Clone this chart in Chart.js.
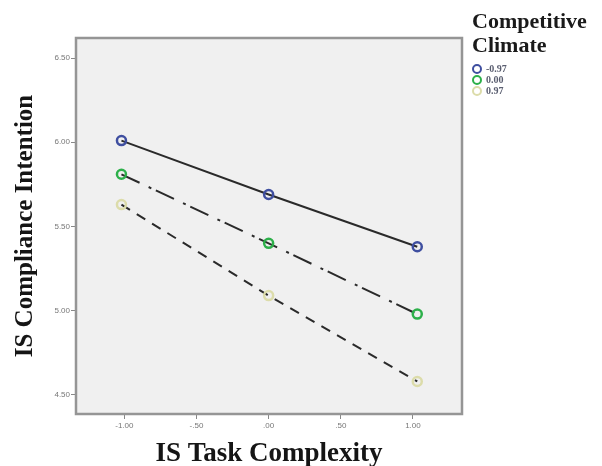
<!DOCTYPE html>
<html>
<head>
<meta charset="utf-8">
<script src="https://cdn.jsdelivr.net/npm/chart.js@4.4.1/dist/chart.umd.min.js"></script>
<style>
  body { margin: 0; background: #fff; }
  #wrap { position: relative; width: 602px; height: 466px; }
  #legend { position: absolute; left: 472px; top: 9px; font-family: "Liberation Serif", "Times New Roman", serif; }
  #legend .title { font-size: 22px; font-weight: bold; line-height: 24px; color: #1a1a1a; }
  #legend ul { list-style: none; margin: 6px 0 0 0; padding: 0; }
  #legend li { height: 11px; line-height: 11px; font-size: 10px; font-weight: bold; color: #5a5e70; display: flex; align-items: center; }
  #legend .ring { width: 6px; height: 6px; border-radius: 50%; border: 2px solid; margin-right: 4px; }
</style>
</head>
<body>
<div id="wrap">
  <canvas id="chart" width="602" height="466"></canvas>
  <div id="legend">
    <div class="title">Competitive<br>Climate</div>
    <ul id="legendItems"></ul>
  </div>
</div>
<script>
// Nilai sumbu X (IS Task Complexity, -1 SD, mean, +1 SD)
const taskComplexity = [-1.02, 0, 1.03];

// Kelompok moderator (Competitive Climate)
const climateLabels = ["-0.97", "0.00", "0.97"];

// Nilai prediksi IS Compliance Intention per kelompok
const lowClimate = [6.01, 5.69, 5.38];
const midClimate = [5.81, 5.40, 4.98];
const highClimate = [5.63, 5.09, 4.58];

// Label tick
const xTicks = [-1, -0.5, 0, 0.5, 1];
const xTickLabels = ["-1.00", "-.50", ".00", ".50", "1.00"];
const yTicks = [4.5, 5, 5.5, 6, 6.5];
const yTickLabels = ["4.50", "5.00", "5.50", "6.00", "6.50"];

const ringColors = ["#3f4fa0", "#2db04a", "#dcdcaa"];
const dashes = [[], [20, 10, 3, 5], [10, 8]];
const seriesValues = [lowClimate, midClimate, highClimate];

const toPoints = (vals) => vals.map((v, i) => ({ x: taskComplexity[i], y: v }));

// Plugin latar abu-abu + bingkai area plot
const plotBox = {
  id: "plotBox",
  beforeDraw(chart) {
    const { ctx, chartArea: a } = chart;
    ctx.save();
    ctx.fillStyle = "#f0f0f0";
    ctx.fillRect(a.left, a.top, a.right - a.left, a.bottom - a.top);
    ctx.restore();
  },
  beforeDatasetsDraw(chart) {
    const { ctx, chartArea: a } = chart;
    ctx.save();
    ctx.strokeStyle = "#959595";
    ctx.lineWidth = 2.5;
    ctx.strokeRect(a.left, a.top, a.right - a.left, a.bottom - a.top);
    ctx.restore();
  },
};

const ctx = document.getElementById("chart").getContext("2d");

new Chart(ctx, {
  type: "scatter",
  data: {
    datasets: climateLabels.map((lbl, i) => ({
      label: lbl,
      data: toPoints(seriesValues[i]),
      showLine: true,
      borderColor: "#2a2a2a",
      borderWidth: 2,
      borderDash: dashes[i],
      pointRadius: 4.5,
      pointBorderWidth: 2.5,
      pointBorderColor: ringColors[i],
      pointBackgroundColor: "rgba(0,0,0,0)",
    })),
  },
  options: {
    responsive: false,
    animation: false,
    layout: { padding: { top: 38, right: 140, left: 0, bottom: 0 } },
    plugins: {
      legend: { display: false },
      tooltip: { enabled: false },
    },
    scales: {
      x: {
        type: "linear",
        min: -1.335,
        max: 1.34,
        afterFit: (scale) => { scale.height = 52; },
        afterBuildTicks: (scale) => { scale.ticks = xTicks.map((v) => ({ value: v })); },
        border: { display: false },
        grid: { drawOnChartArea: false, tickLength: 5, color: "#888" },
        ticks: {
          color: "#777",
          padding: 2,
          font: { family: "Liberation Sans", size: 8 },
          callback: (v) => xTickLabels[xTicks.indexOf(v)],
        },
        title: {
          display: true,
          text: "IS Task Complexity",
          color: "#151515",
          padding: { top: 0, bottom: 0 },
          font: { family: "Liberation Serif", size: 27, weight: "bold", lineHeight: 0.9 },
        },
      },
      y: {
        type: "linear",
        min: 4.387,
        max: 6.619,
        afterFit: (scale) => { scale.width = 76; },
        afterBuildTicks: (scale) => { scale.ticks = yTicks.map((v) => ({ value: v })); },
        border: { display: false },
        grid: { drawOnChartArea: false, tickLength: 5, color: "#888" },
        ticks: {
          color: "#777",
          padding: 1,
          font: { family: "Liberation Sans", size: 8 },
          callback: (v) => yTickLabels[yTicks.indexOf(v)],
        },
        title: {
          display: true,
          text: "IS Compliance Intention",
          color: "#151515",
          padding: { top: 11, bottom: 0 },
          font: { family: "Liberation Serif", size: 25, weight: "bold", lineHeight: 1.2 },
        },
      },
    },
  },
  plugins: [plotBox],
});

// Legenda HTML dari label kelompok
const legendItems = document.getElementById("legendItems");
climateLabels.forEach((lbl, i) => {
  const li = document.createElement("li");
  li.innerHTML = '<span class="ring" style="border-color:' + ringColors[i] + '"></span>' + lbl;
  legendItems.appendChild(li);
});
</script>
</body>
</html>
